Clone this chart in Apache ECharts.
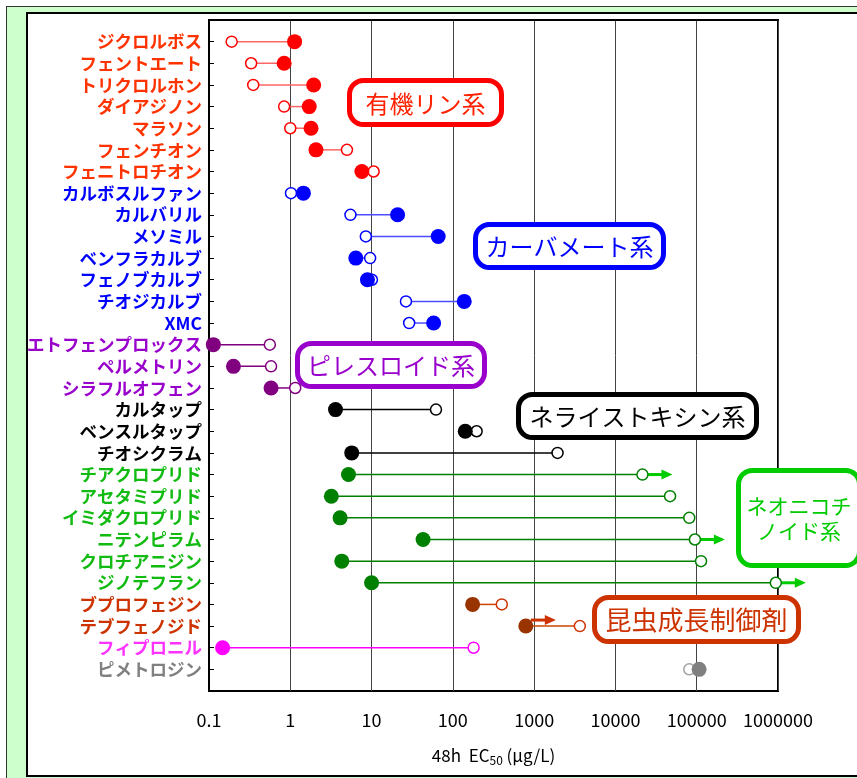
<!DOCTYPE html>
<html>
<head>
<meta charset="utf-8">
<script src="https://cdn.jsdelivr.net/npm/echarts@6/dist/echarts.min.js"></script>
<style>
  html, body { margin: 0; padding: 0; background: #fff; overflow: hidden; }
  .frame { position: absolute; left: 6px; top: 6px; width: 900px; height: 800px; box-sizing: border-box;
           background: #ccffcc; border: 1.5px solid #333; }
  .panel { position: absolute; left: 26px; top: 12px; width: 900px; height: 765px; box-sizing: border-box;
           background: #fff; border: 2px solid #000; }
  #main { position: absolute; left: 0; top: 0; width: 857px; height: 778px; }
</style>
</head>
<body>
<div class="frame"></div>
<div class="panel"></div>
<div id="main"></div>
<script>
// 薬剤名 (上から順)
const names = [
  'ジクロルボス', 'フェントエート', 'トリクロルホン', 'ダイアジノン', 'マラソン', 'フェンチオン', 'フェニトロチオン',
  'カルボスルファン', 'カルバリル', 'メソミル', 'ベンフラカルブ', 'フェノブカルブ', 'チオジカルブ', 'XMC',
  'エトフェンプロックス', 'ペルメトリン', 'シラフルオフェン',
  'カルタップ', 'ベンスルタップ', 'チオシクラム',
  'チアクロプリド', 'アセタミプリド', 'イミダクロプリド', 'ニテンピラム', 'クロチアニジン', 'ジノテフラン',
  'ブプロフェジン', 'テブフェノジド',
  'フィプロニル',
  'ピメトロジン'
]
// 系統 (0:有機リン 1:カーバメート 2:ピレスロイド 3:ネライストキシン 4:ネオニコチノイド 5:IGR 6:フィプロニル 7:ピメトロジン)
const groupOf = [0,0,0,0,0,0,0, 1,1,1,1,1,1,1, 2,2,2, 3,3,3, 4,4,4,4,4,4, 5,5, 6, 7]

// ● の値 (48h EC50, μg/L)
const filledVals = [1.13, 0.84, 1.94, 1.71, 1.8, 2.07, 7.6,
  1.45, 20.9, 66, 6.4, 8.9, 138, 58,
  0.113, 0.20, 0.58,
  3.6, 142, 5.7,
  5.2, 3.2, 4.1, 43, 4.3, 10,
  175, 790,
  0.147,
  107000]
// ○ の値
const openVals = [0.19, 0.33, 0.35, 0.84, 1.0, 4.98, 10.6,
  1.02, 5.5, 8.5, 9.6, 10.1, 26.5, 29,
  0.56, 0.58, 1.15,
  62, 196, 1940,
  21500, 47000, 81000, 95000, 113000, 940000,
  400, 3650,
  180,
  81000]

// 矢印 (行番号, 起点が ● か ○ か)
const arrowRows = [21, 24, 26, 28]
const arrowFrom = ['open', 'open', 'open', 'filled']

const xTickLabels = ['0.1', '1', '10', '100', '1000', '10000', '100000', '1000000']

// 色
const labelColors  = ['#ff3300', '#0000ff', '#9900cc', '#000000', '#11bb11', '#cc3300', '#ff33ff', '#808080']
const markerColors = ['#ff0000', '#0000ff', '#800080', '#000000', '#008000', '#993300', '#ff00ff', '#808080']
const openColors   = ['#ff0000', '#0000ff', '#800080', '#000000', '#008000', '#cc3300', '#ff00ff', '#a0a0a0']
const lineColors   = ['#ff6666', '#4d4dff', '#800080', '#000000', '#008000', '#cc4400', '#ff00ff', '#a0a0a0']
const arrowColors  = ['#ff0000', '#0000ff', '#800080', '#000000', '#00cc00', '#cc3300', '#ff00ff', '#808080']

const chart = echarts.init(document.getElementById('main'))

const rows = names.map((n, i) => i + 1)
const linkData = rows.map((r, i) => [r, filledVals[i], openVals[i]])
const openData = rows.map((r, i) => ({
  value: [openVals[i], r],
  itemStyle: { color: '#fff', borderColor: openColors[groupOf[i]], borderWidth: 1.5, opacity: 1 }
}))
const filledData = rows.map((r, i) => ({
  value: [filledVals[i], r],
  itemStyle: { color: markerColors[groupOf[i]], opacity: 1 }
}))
const arrowData = arrowRows.map((r, k) => [r, arrowFrom[k] === 'open' ? openVals[r - 1] : filledVals[r - 1], arrowFrom[k] === 'open' ? 0 : 1])

// 系統名の枠
function box(x0, y0, x1, y1, stroke, color, text, size) {
  return {
    type: 'group',
    z: 100,
    children: [
      { type: 'rect', shape: { x: x0 + 2.5, y: y0 + 2.5, width: x1 - x0 - 5, height: y1 - y0 - 5, r: 14 },
        style: { fill: '#fff', stroke: stroke, lineWidth: 5 }, z: 100 },
      { type: 'text', x: (x0 + x1) / 2, y: (y0 + y1) / 2 + 1, z: 101,
        style: { text: text, fill: color, font: size + 'px "Noto Sans CJK JP"', align: 'center', verticalAlign: 'middle', lineHeight: size + 4 } }
    ]
  }
}

const option = {
  animation: false,
  grid: { left: 209, top: 20, width: 569, height: 671, show: true, borderColor: '#000', borderWidth: 2, backgroundColor: 'transparent' },
  xAxis: {
    type: 'log',
    logBase: 10,
    min: 0.1,
    max: 1000000,
    axisLine: { lineStyle: { color: '#000', width: 2 } },
    axisTick: { show: false },
    axisLabel: {
      margin: 20,
      fontSize: 18,
      color: '#000',
      fontFamily: 'Noto Sans CJK JP',
      formatter: v => xTickLabels[Math.round(Math.log10(v)) + 1]
    },
    splitLine: { show: true, lineStyle: { color: '#444', width: 1 } },
    name: '48h  EC{sub|50} (μg/L)',
    nameLocation: 'middle',
    nameGap: 55,
    nameTextStyle: {
      fontSize: 17, color: '#000', fontFamily: 'Noto Sans CJK JP',
      rich: { sub: { fontSize: 12, verticalAlign: 'bottom', padding: [8, 0, 0, 0], fontFamily: 'Noto Sans CJK JP' } }
    }
  },
  yAxis: {
    type: 'value',
    inverse: true,
    min: 0,
    max: 31,
    interval: 1,
    axisLine: { lineStyle: { color: '#000', width: 2 } },
    axisTick: { inside: true, length: 5, lineStyle: { color: '#000', width: 1 } },
    splitLine: { show: false },
    axisLabel: {
      margin: 7,
      fontSize: 17.5,
      fontWeight: 'bold',
      fontFamily: 'Noto Sans CJK JP',
      formatter: v => names[v - 1] || '',
      color: v => {
        const i = Number(v) - 1
        return i >= 0 && i < names.length ? labelColors[groupOf[i]] : '#000'
      }
    }
  },
  graphic: [
    box(347, 78, 504, 127, '#ff0000', '#ff2200', '有機リン系', 24),
    box(473, 222, 666, 270, '#0000ff', '#0000ff', 'カーバメート系', 24),
    box(295, 341, 487, 389, '#9900cc', '#9900cc', 'ピレスロイド系', 24),
    box(516, 392, 759, 440, '#000000', '#000000', 'ネライストキシン系', 24),
    box(736, 468, 862, 568, '#00cc00', '#00cc00', 'ネオニコチ\nノイド系', 21),
    box(592, 595, 801, 644, '#cc3300', '#cc3300', '昆虫成長制御剤', 26)
  ],
  series: [
    {
      type: 'custom',
      z: 1,
      encode: { x: [1, 2], y: 0 },
      data: linkData,
      renderItem: (params, api) => {
        const r = api.value(0)
        const a = api.coord([api.value(1), r])
        const b = api.coord([api.value(2), r])
        return { type: 'line', shape: { x1: a[0], y1: a[1], x2: b[0], y2: b[1] },
          style: { stroke: lineColors[groupOf[r - 1]], lineWidth: 1.5 } }
      }
    },
    {
      type: 'custom',
      z: 2,
      encode: { x: 1, y: 0 },
      data: arrowData,
      renderItem: (params, api) => {
        const r = api.value(0)
        const p = api.coord([api.value(1), r])
        const dy = api.value(2) ? -6 : 0
        const c = arrowColors[groupOf[r - 1]]
        const x = p[0], y = p[1] + dy
        const x0 = api.value(2) ? x + 5 : x
        return {
          type: 'group',
          children: [
            { type: 'line', shape: { x1: x0, y1: y, x2: x + 20, y2: y }, style: { stroke: c, lineWidth: 3 } },
            { type: 'polygon', shape: { points: [[x + 19, y - 5], [x + 30, y], [x + 19, y + 5]] }, style: { fill: c } }
          ]
        }
      },
      clip: false
    },
    {
      type: 'scatter',
      z: 3,
      symbol: 'circle',
      symbolSize: 11,
      itemStyle: { opacity: 1 },
      data: openData,
      clip: false
    },
    {
      type: 'scatter',
      z: 4,
      symbol: 'circle',
      symbolSize: 15,
      itemStyle: { opacity: 1 },
      data: filledData,
      clip: false
    }
  ]
}

chart.setOption(option)
window.onresize = function () {
  chart.resize()
}
</script>
</body>
</html>
